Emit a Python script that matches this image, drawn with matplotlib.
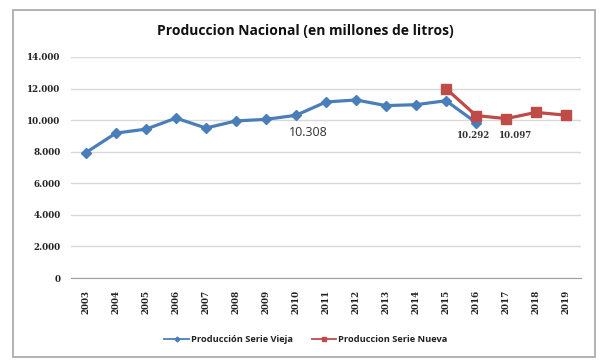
import matplotlib
matplotlib.use("Agg")
import matplotlib.pyplot as plt
from matplotlib.patches import Rectangle

years = list(range(2003, 2020))
old_years = list(range(2003, 2017))
old_vals = [7950, 9180, 9430, 10130, 9500, 9950, 10050, 10308, 11150, 11280, 10920, 10980, 11230, 9850]
new_years = [2015, 2016, 2017, 2018, 2019]
new_vals = [12000, 10292, 10097, 10490, 10316]
yticks = [0, 2000, 4000, 6000, 8000, 10000, 12000, 14000]
ytick_labels = ["0", "2.000", "4.000", "6.000", "8.000", "10.000", "12.000", "14.000"]
title = "Produccion Nacional (en millones de litros)"
label_old = "Producción Serie Vieja"
label_new = "Produccion Serie Nueva"

W, H = 606, 360
fig = plt.figure(figsize=(W / 100, H / 100), dpi=100)
fig.patch.set_facecolor("white")
fig.patches.append(Rectangle((13 / W, 1 - 357 / H), (595 - 13) / W, (357 - 10) / H,
                             transform=fig.transFigure, fill=False, edgecolor="#a6a6a6", lw=1.2))

ax = fig.add_axes([71 / W, 1 - 278 / H, (581 - 71) / W, (278 - 57) / H])
ax.set_xlim(2002.5, 2019.5)
ax.set_ylim(0, 14000)
for s in ["top", "right", "left"]:
    ax.spines[s].set_visible(False)
ax.spines["bottom"].set_color("#a0a0a0")
ax.set_yticks(yticks)
ax.set_yticklabels(ytick_labels)
ax.set_xticks(years)
ax.set_xticklabels([str(y) for y in years], rotation=90)
ax.tick_params(length=0, labelsize=6.3)
ax.tick_params(axis="x", pad=8.5)
ax.tick_params(axis="y", pad=7.5)
for lab in ax.get_xticklabels() + ax.get_yticklabels():
    lab.set_fontfamily("DejaVu Serif")
    lab.set_fontweight("bold")
    lab.set_color("#222222")
ax.grid(axis="y", color="#d9d9d9", lw=1)
ax.set_axisbelow(True)

ax.plot(old_years, old_vals, color="#4a7ebb", lw=2.3, marker="D", ms=5.5, label=label_old, zorder=3)
ax.plot(new_years, new_vals, color="#be4b48", lw=2.3, marker="s", ms=7, label=label_new, zorder=4)

ax.annotate("10.308", (2010, old_vals[7]), xytext=(9, -12.5), textcoords="offset points",
            ha="center", va="center", fontsize=9, family="Open Sans", color="#333333")
ax.annotate("10.292", (2016, new_vals[1]), xytext=(-1.5, -14.4), textcoords="offset points",
            ha="center", va="center", fontsize=6.2, family="DejaVu Serif", fontweight="bold", color="#333333")
ax.annotate("10.097", (2017, new_vals[2]), xytext=(7, -12.2), textcoords="offset points",
            ha="center", va="center", fontsize=6.2, family="DejaVu Serif", fontweight="bold", color="#333333")

fig.text(305 / W, 1 - 31 / H, title, ha="center", va="center", fontsize=10,
         family="Open Sans", fontweight="bold", color="#111111")

leg = fig.legend(loc="center", bbox_to_anchor=(306 / W, 1 - 340 / H), ncol=2, frameon=False,
                 handlelength=2.6, columnspacing=2.0, handletextpad=0.25, markerscale=0.45,
                 prop={"family": "Open Sans", "weight": "bold", "size": 6.7})
for t in leg.get_texts():
    t.set_color("#222222")
for l in leg.get_lines():
    l.set_linewidth(1.3)

fig.savefig("out.png", dpi=100)
